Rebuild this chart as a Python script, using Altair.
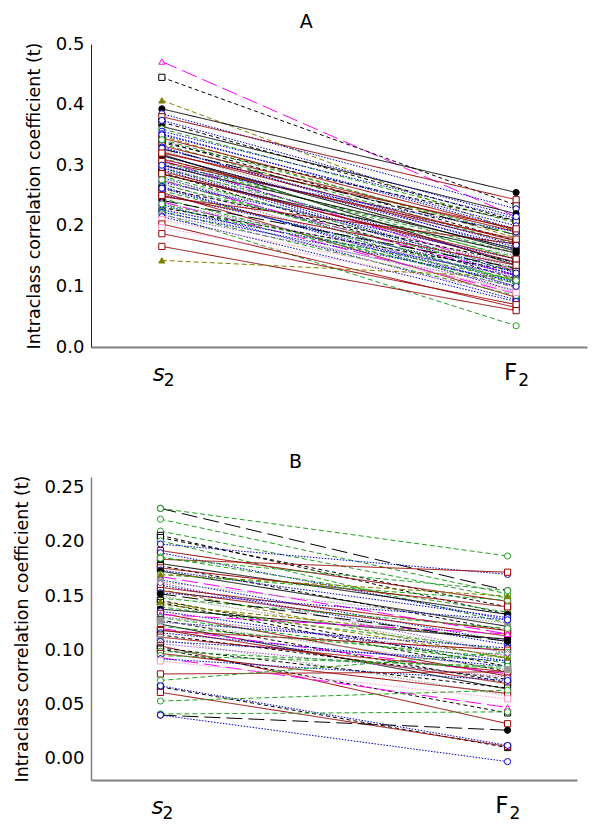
import altair as alt
import pandas as pd

# ---------------- data ----------------
stage_pos = [0, 1]
stage_labels = ["s", "F"]
stage_subs = ["2", "2"]

A_s2 = [0.471, 0.445, 0.407, 0.393, 0.385, 0.380, 0.371, 0.364, 0.360, 0.356,
        0.352, 0.348, 0.345, 0.340, 0.337, 0.335, 0.332, 0.330, 0.327, 0.325,
        0.322, 0.318, 0.315, 0.312, 0.310, 0.308, 0.305, 0.302, 0.300, 0.298,
        0.295, 0.293, 0.290, 0.288, 0.285, 0.282, 0.280, 0.278, 0.275, 0.272,
        0.270, 0.268, 0.265, 0.262, 0.258, 0.255, 0.252, 0.248, 0.245, 0.242,
        0.240, 0.238, 0.235, 0.232, 0.230, 0.228, 0.226, 0.224, 0.222, 0.220,
        0.218, 0.215, 0.210, 0.203, 0.197, 0.187, 0.166, 0.143, 0.350, 0.342,
        0.328, 0.316, 0.306, 0.296, 0.286, 0.276, 0.262, 0.250, 0.236, 0.300,
        0.320, 0.374]
A_F2 = [0.215, 0.234, 0.190, 0.255, 0.228, 0.243, 0.208, 0.220, 0.205, 0.212,
        0.195, 0.180, 0.193, 0.175, 0.208, 0.170, 0.190, 0.160, 0.185, 0.150,
        0.175, 0.135, 0.165, 0.145, 0.172, 0.125, 0.155, 0.138, 0.162, 0.130,
        0.148, 0.118, 0.140, 0.112, 0.155, 0.128, 0.105, 0.135, 0.118, 0.145,
        0.100, 0.125, 0.092, 0.140, 0.110, 0.082, 0.120, 0.170, 0.098, 0.130,
        0.088, 0.115, 0.078, 0.105, 0.125, 0.092, 0.118, 0.085, 0.108, 0.035,
        0.100, 0.075, 0.095, 0.065, 0.090, 0.070, 0.060, 0.115, 0.200, 0.185,
        0.168, 0.158, 0.178, 0.122, 0.145, 0.108, 0.100, 0.135, 0.110, 0.190,
        0.195, 0.215]
A_style = ["m", "kd", "o", "ks", "b", "r", "kd", "ks", "g", "b",
           "b", "o", "r", "kd", "kd", "g", "r", "b", "kl", "gr",
           "r", "ks", "b", "g", "r", "m", "g", "b", "ks", "pu",
           "g", "b", "r", "kd", "ks", "g", "b", "gr", "m", "b",
           "pu", "g", "b", "kd", "g", "r", "b", "r", "g", "kl",
           "m", "pu", "b", "g", "kd", "gr", "b", "g", "b", "g",
           "pu", "b", "pk", "r", "pk", "r", "r", "o", "b", "g",
           "b", "ks", "r", "b", "r", "g", "b", "r", "g", "b",
           "r", "b"]

B_s2 = [0.231, 0.231, 0.221, 0.210, 0.206, 0.204, 0.201, 0.198, 0.192, 0.190,
        0.186, 0.184, 0.180, 0.178, 0.176, 0.174, 0.173, 0.170, 0.168, 0.165,
        0.163, 0.160, 0.158, 0.156, 0.155, 0.153, 0.150, 0.148, 0.146, 0.144,
        0.142, 0.140, 0.138, 0.136, 0.134, 0.133, 0.131, 0.130, 0.128, 0.126,
        0.124, 0.122, 0.120, 0.119, 0.118, 0.116, 0.114, 0.112, 0.110, 0.108,
        0.106, 0.104, 0.102, 0.101, 0.099, 0.097, 0.095, 0.093, 0.092, 0.090,
        0.078, 0.072, 0.066, 0.061, 0.067, 0.053, 0.041, 0.040, 0.040, 0.170,
        0.185, 0.145, 0.162, 0.127, 0.152]
B_F2 = [0.155, 0.187, 0.152, 0.148, 0.133, 0.140, 0.125, 0.170, 0.145, 0.128,
        0.135, 0.172, 0.133, 0.118, 0.140, 0.130, 0.122, 0.146, 0.115, 0.108,
        0.125, 0.105, 0.118, 0.092, 0.113, 0.128, 0.098, 0.120, 0.085, 0.080,
        0.110, 0.100, 0.110, 0.090, 0.076, 0.115, 0.095, 0.088, 0.070, 0.102,
        0.064, 0.093, 0.078, 0.069, 0.100, 0.085, 0.073, 0.080, 0.058, 0.090,
        0.075, 0.032, 0.065, 0.042, 0.083, 0.060, 0.085, 0.047, 0.072, 0.055,
        0.080, 0.098, 0.010, 0.011, 0.012, 0.063, 0.043, 0.026, -0.003, 0.150,
        0.155, 0.093, 0.097, 0.082, 0.108]
B_style = ["kl", "g", "g", "g", "kd", "kd", "g", "b", "r", "b",
           "g", "r", "ks", "kd", "r", "b", "ks", "g", "m", "b",
           "gr", "b", "r", "o", "r", "b", "gr", "g", "kd", "kd",
           "o", "g", "ks", "b", "r", "m", "pu", "g", "kd", "b",
           "ks", "g", "m", "r", "r", "b", "kd", "r", "gr", "b",
           "pu", "r", "kd", "kd", "g", "r", "g", "m", "b", "pk",
           "r", "g", "kd", "r", "b", "g", "g", "kl", "b", "o",
           "g", "o", "pu", "gr", "kl"]

# style table (appearance of each line type)
style_codes = ["ks", "kd", "kl", "r", "b", "g", "m", "o", "gr", "pk", "pu"]
style_colors = ["#000000", "#000000", "#000000", "#990000", "#0000cc", "#22a022",
                "#ff00ff", "#808000", "#999999", "#ff99cc", "#9955cc"]
style_dashes = [[1, 0], [4, 3], [16, 6], [1, 0], [1.5, 1.5], [5, 3],
                [16, 6], [5, 3], [1.5, 1.5], [1.5, 1.5], [1.5, 1.5]]
style_shapes = ["circle", "square", "circle", "square", "circle", "circle",
                "triangle-up", "triangle-up", "square", "square", "diamond"]
style_fills = ["#000000", "#ffffff", "#000000", "#ffffff", "#ffffff", "#ffffff",
               "#ffffff", "#808000", "#999999", "#ffffff", "#ffffff"]

FONT = "DejaVu Sans"


def long_df(s2, f2, sty):
    rows = []
    for i, (a, b, s) in enumerate(zip(s2, f2, sty)):
        rows.append({"id": i, "xpos": stage_pos[0], "value": a, "style": s})
        rows.append({"id": i, "xpos": stage_pos[1], "value": b, "style": s})
    return pd.DataFrame(rows)


lab_df = pd.DataFrame({"xpos": stage_pos, "main": stage_labels, "sub": stage_subs})


def panel(df, title, ydomain, yticks, fmt, w, h, ycol, ywidth):
    xenc = alt.X("xpos:Q", scale=alt.Scale(domain=[-0.2, 1.2], nice=False, zero=False),
                 axis=alt.Axis(labels=False, ticks=False, grid=False, title=None,
                               domainColor="#808080", domainWidth=2))
    yenc = alt.Y("value:Q", scale=alt.Scale(domain=ydomain, nice=False, zero=False),
                 axis=alt.Axis(values=yticks, format=fmt, grid=False, ticks=False,
                               labelPadding=7, labelFont=FONT, labelFontSize=18,
                               labelColor="black",
                               title="Intraclass correlation coefficient (t)",
                               titleFont=FONT, titleFontSize=17.5,
                               titleFontWeight="normal", titleColor="black",
                               titlePadding=12, domainColor=ycol, domainWidth=ywidth))
    color = alt.Color("style:N", scale=alt.Scale(domain=style_codes, range=style_colors), legend=None)
    lines = alt.Chart(df).mark_line(strokeWidth=1).encode(
        x=xenc, y=yenc, detail="id:N", color=color,
        strokeDash=alt.StrokeDash("style:N", scale=alt.Scale(domain=style_codes, range=style_dashes), legend=None),
    )
    pts = alt.Chart(df).mark_point(filled=True, size=38, strokeWidth=1, opacity=1).encode(
        x="xpos:Q", y="value:Q",
        shape=alt.Shape("style:N", scale=alt.Scale(domain=style_codes, range=style_shapes), legend=None),
        fill=alt.Fill("style:N", scale=alt.Scale(domain=style_codes, range=style_fills), legend=None),
        stroke=alt.Stroke("style:N", scale=alt.Scale(domain=style_codes, range=style_colors), legend=None),
    )
    main_s = alt.Chart(lab_df).transform_filter(alt.datum.main == "s").mark_text(
        font=FONT, fontSize=23, fontStyle="italic", align="right", baseline="alphabetic", dx=3
    ).encode(x="xpos:Q", y=alt.value(h + 34), text="main:N")
    main_f = alt.Chart(lab_df).transform_filter(alt.datum.main == "F").mark_text(
        font=FONT, fontSize=23, align="right", baseline="alphabetic", dx=1
    ).encode(x="xpos:Q", y=alt.value(h + 33), text="main:N")
    subs = alt.Chart(lab_df).mark_text(
        font=FONT, fontSize=17, align="left", baseline="alphabetic", dx=2
    ).encode(x="xpos:Q", y=alt.value(h + 39), text="sub:N")
    return alt.layer(lines, pts, main_s, main_f, subs).properties(
        width=w, height=h,
        title=alt.TitleParams(title, font=FONT, fontSize=19, fontWeight="normal",
                              anchor="middle", frame="bounds", offset=3, color="black"),
    )


A = panel(long_df(A_s2, A_F2, A_style), "A", [0, 0.5], [0, 0.1, 0.2, 0.3, 0.4, 0.5], ".1f",
          496, 303, "#222222", 1)
B = panel(long_df(B_s2, B_F2, B_style), "B", [-0.02, 0.26],
          [0, 0.05, 0.1, 0.15, 0.2, 0.25], ".2f", 486, 303, "#808080", 1.5)

chart = alt.vconcat(A, B, spacing=64).resolve_scale(x="independent", y="independent").configure_view(stroke=None)

chart.save("out.html", embed_options={"renderer": "svg", "actions": False})
